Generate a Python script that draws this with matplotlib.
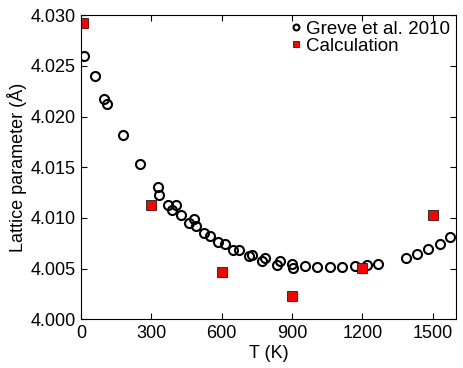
import numpy as np
import matplotlib
matplotlib.use("Agg")
import matplotlib.pyplot as plt

plt.rcParams['font.family'] = ['Liberation Sans', 'DejaVu Sans']

# Greve et al. 2010 (experiment)
T_exp = [11, 60, 98, 110, 178, 252, 330, 333, 370, 390, 404, 427, 461, 480, 490,
         524, 550, 585, 615, 650, 672, 715, 731, 771, 783, 838, 847, 898, 906,
         955, 1008, 1062, 1114, 1169, 1220, 1269, 1386, 1435, 1482, 1530, 1576]
a_exp = [4.02596, 4.0240, 4.02169, 4.02127, 4.01816, 4.01534, 4.0131, 4.0123,
         4.01131, 4.01075, 4.01127, 4.01028, 4.00949, 4.00988, 4.00923, 4.0085,
         4.00827, 4.00767, 4.00747, 4.00685, 4.00688, 4.00625, 4.00635, 4.00572,
         4.00601, 4.00539, 4.00576, 4.00549, 4.00509, 4.00526, 4.00516, 4.00512,
         4.00512, 4.00522, 4.00539, 4.00549, 4.00601, 4.00645, 4.00695, 4.00747,
         4.0081]

# calculation
T_calc = [10, 300, 600, 900, 1200, 1500]
a_calc = [4.02921, 4.01127, 4.00463, 4.00234, 4.00502, 4.01028]

fig = plt.figure(figsize=(4.63, 3.68), dpi=100)
ax = fig.add_axes([0.175, 0.132, 0.810, 0.827])

ax.plot(T_exp, a_exp, 'o', mfc='none', mec='black', mew=1.5, ms=6.5,
        label='Greve et al. 2010')
ax.plot(T_calc, a_calc, 's', mfc='red', mec='black', mew=0.5, ms=6.5,
        label='Calculation')

ax.set_xlim(0, 1600)
ax.set_ylim(4.000, 4.030)
ax.set_xticks([0, 300, 600, 900, 1200, 1500])
ax.set_yticks([4.000, 4.005, 4.010, 4.015, 4.020, 4.025, 4.030])
ax.set_yticklabels(['4.000', '4.005', '4.010', '4.015', '4.020', '4.025', '4.030'])
ax.tick_params(direction='in', top=True, right=True, labelsize=13, length=4, pad=4)

ax.set_xlabel('T (K)', fontsize=13, labelpad=2)
ax.set_ylabel('Lattice parameter (Å)', fontsize=13, labelpad=2)

ax.legend(loc='upper right', frameon=False, numpoints=1, fontsize=13.5,
          markerscale=0.65, handletextpad=0.3, handlelength=0.5,
          labelspacing=0.0, borderaxespad=-0.1)

fig.savefig('out.png', dpi=100)
